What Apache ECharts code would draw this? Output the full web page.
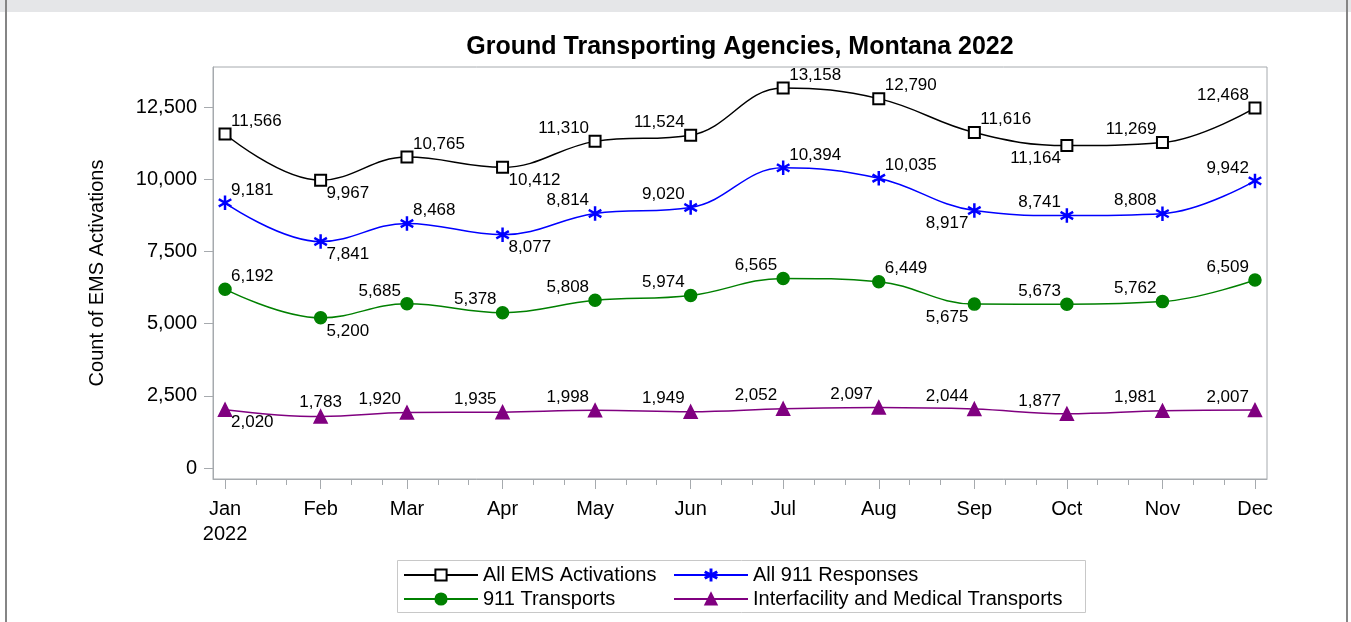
<!DOCTYPE html>
<html>
<head>
<meta charset="utf-8">
<script src="https://cdn.jsdelivr.net/npm/echarts@6/dist/echarts.min.js"></script>
<style>
    html, body { margin: 0; padding: 0; background: #fff; }
    #main { width: 1351px; height: 622px; }
</style>
</head>
<body>
<div id="main"></div>
<script>
// data
const year = 2022;
const months = ['Jan', 'Feb', 'Mar', 'Apr', 'May', 'Jun', 'Jul', 'Aug', 'Sep', 'Oct', 'Nov', 'Dec'];
const emsActivations = [11566, 9967, 10765, 10412, 11310, 11524, 13158, 12790, 11616, 11164, 11269, 12468];
const responses911 = [9181, 7841, 8468, 8077, 8814, 9020, 10394, 10035, 8917, 8741, 8808, 9942];
const transports911 = [6192, 5200, 5685, 5378, 5808, 5974, 6565, 6449, 5675, 5673, 5762, 6509];
const interfacility = [2020, 1783, 1920, 1935, 1998, 1949, 2052, 2097, 2044, 1877, 1981, 2007];
const yTicks = [0, 2500, 5000, 7500, 10000, 12500];

// where each point label sits (a = above, b = below, r/l = side, t = top)
const emsPos = ['ar', 'br', 'ar', 'br', 'al', 'al', 'ar', 'ar', 'ar', 'bl', 'al', 'al'];
const respPos = ['ar', 'br', 'ar', 'br', 'al', 'al', 'ar', 'ar', 'bl', 'al', 'al', 'al'];
const transPos = ['ar', 'br', 'al', 'al', 'al', 'al', 'al', 'ar', 'bl', 'al', 'al', 'al'];
const interPos = ['br', 't', 'al', 'al', 'al', 'al', 'al', 'al', 'al', 'al', 'al', 'al'];

const FONT = 'Liberation Sans, Arial, Helvetica, sans-serif';
// x runs in days since Jan 1 (date axis drawn on a value scale)
const dayOfYear = (m, d) => Math.round((Date.UTC(year, m, d) - Date.UTC(year, 0, 1)) / 86400000);
const monthStarts = months.map((m, i) => dayOfYear(i, 1));
const minorDays = [];
months.forEach((m, i) => {
    if (i < 11) {
        minorDays.push(dayOfYear(i, 11));
        minorDays.push(dayOfYear(i, 21));
    }
});
const xMin = monthStarts[0] - 3.9;
const xMax = monthStarts[11] + 3.9;

const fmt = v => Number(v).toLocaleString('en-US');

const labelPlace = {
    ar: { align: 'left', offset: [6, -13] },
    br: { align: 'left', offset: [6, 13] },
    al: { align: 'right', offset: [-6, -13] },
    bl: { align: 'right', offset: [-6, 13] },
    t: { align: 'center', offset: [0, -14] }
};

const asterisk = 'path://M11.1 0L12.9 0L12.9 24L11.1 24Z' +
    'M2.058 5.221L22.842 17.221L21.942 18.779L1.158 6.779Z' +
    'M1.158 17.221L21.942 5.221L22.842 6.779L2.058 18.779Z';

function buildData(values, places) {
    return values.map((v, i) => {
        const p = labelPlace[places[i]];
        return {
            value: [monthStarts[i], v],
            label: { align: p.align, offset: p.offset }
        };
    });
}

function makeSeries(name, values, places, color, symbol, size) {
    return {
        name: name,
        type: 'line',
        xAxisIndex: 0,
        smooth: 0.4,
        symbol: symbol,
        symbolSize: size,
        symbolKeepAspect: true,
        lineStyle: { color: color, width: 1.5 },
        itemStyle: { color: color, borderColor: color, borderWidth: 1.5 },
        label: {
            show: true,
            position: 'inside',
            verticalAlign: 'middle',
            color: '#000',
            fontSize: 17,
            fontFamily: FONT,
            formatter: p => fmt(p.value[1])
        },
        emphasis: { disabled: true },
        data: buildData(values, places)
    };
}

const chart = echarts.init(document.getElementById('main'));

const legendCommon = {
    orient: 'vertical',
    top: 565,
    padding: 0,
    itemWidth: 74,
    itemHeight: 14,
    itemGap: 4,
    selectedMode: false,
    textStyle: { fontSize: 20, fontFamily: FONT, color: '#000', lineHeight: 20 }
};

const option = {
    animation: false,
    backgroundColor: '#fff',
    title: {
        text: 'Ground Transporting Agencies, Montana 2022',
        left: 735,
        top: 30,
        textAlign: 'center',
        textStyle: { fontSize: 25, fontWeight: 'bold', fontFamily: FONT, color: '#000' }
    },
    graphic: [
        { type: 'rect', shape: { x: 0, y: 0, width: 1351, height: 12 }, style: { fill: '#e5e6e8' }, silent: true },
        { type: 'rect', shape: { x: 5, y: 0, width: 2, height: 622 }, style: { fill: '#858585' }, silent: true },
        { type: 'rect', shape: { x: 1346, y: 0, width: 2, height: 622 }, style: { fill: '#858585' }, silent: true },
        { type: 'rect', shape: { x: 397.5, y: 560.5, width: 688, height: 52 }, style: { fill: 'none', stroke: '#c8c8c8', lineWidth: 1 }, silent: true }
    ],
    legend: [
        Object.assign({ left: 403, data: ['All EMS Activations', '911 Transports'] }, legendCommon),
        Object.assign({ left: 673, data: ['All 911 Responses', 'Interfacility and Medical Transports'] }, legendCommon)
    ],
    grid: {
        left: 213,
        right: 84,
        top: 67,
        bottom: 143,
        show: true,
        borderColor: '#a6aaae',
        borderWidth: 1
    },
    xAxis: [
        {
            type: 'value',
            min: xMin,
            max: xMax,
            axisLine: { show: true, onZero: false, lineStyle: { color: '#a6aaae' } },
            axisTick: { show: true, inside: false, length: 10, customValues: monthStarts, lineStyle: { color: '#a6aaae' } },
            axisLabel: {
                customValues: monthStarts,
                margin: 18,
                fontSize: 20,
                lineHeight: 25,
                fontFamily: FONT,
                color: '#000',
                formatter: v => {
                    const i = monthStarts.indexOf(Math.round(v));
                    return i === 0 ? months[i] + '\n' + year : (months[i] || '');
                }
            },
            splitLine: { show: false }
        },
        {
            type: 'value',
            position: 'bottom',
            min: xMin,
            max: xMax,
            axisLine: { show: false, onZero: false },
            axisTick: { show: true, inside: false, length: 6, customValues: minorDays, lineStyle: { color: '#a6aaae' } },
            axisLabel: { show: false },
            splitLine: { show: false }
        }
    ],
    yAxis: {
        type: 'value',
        min: -380,
        max: 13885,
        name: 'Count of EMS Activations',
        nameLocation: 'middle',
        nameGap: 106,
        nameTextStyle: { fontSize: 20, fontFamily: FONT, color: '#000' },
        axisLine: { show: true, onZero: false, lineStyle: { color: '#a6aaae' } },
        axisTick: { show: true, inside: false, length: 9, customValues: yTicks, lineStyle: { color: '#a6aaae' } },
        axisLabel: {
            customValues: yTicks,
            margin: 16,
            fontSize: 20,
            fontFamily: FONT,
            color: '#000',
            formatter: v => fmt(v)
        },
        splitLine: { show: false }
    },
    series: [
        makeSeries('All EMS Activations', emsActivations, emsPos, '#000000', 'emptyRect', 11),
        makeSeries('All 911 Responses', responses911, respPos, '#0000ff', asterisk, 13),
        makeSeries('911 Transports', transports911, transPos, '#008000', 'circle', 12),
        makeSeries('Interfacility and Medical Transports', interfacility, interPos, '#800080', 'triangle', 13)
    ]
};

chart.setOption(option);
</script>
</body>
</html>
